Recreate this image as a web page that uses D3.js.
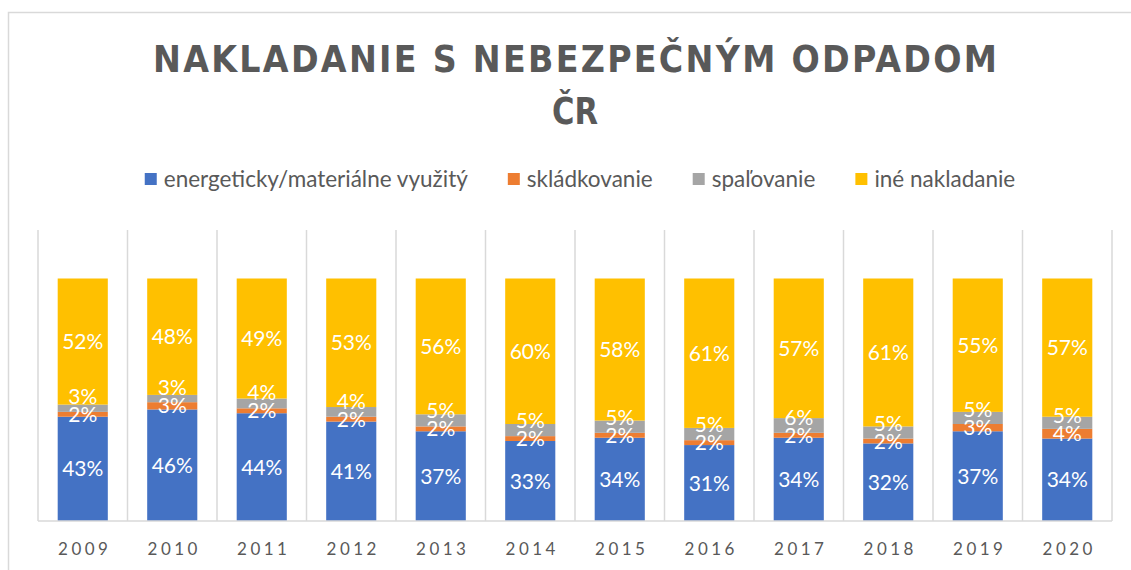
<!DOCTYPE html>
<html>
<head>
<meta charset="utf-8">
<script src="https://cdn.jsdelivr.net/npm/d3@7"></script>
<style>
  body { margin: 0; background: #fff; }
  svg { display: block; }
</style>
</head>
<body>
<svg id="chart"></svg>
<script>
// nakladanie s nebezpecnym odpadom - 100% stacked columns

var years = ["2009", "2010", "2011", "2012", "2013", "2014", "2015", "2016", "2017", "2018", "2019", "2020"];
var seriesNames = ["energeticky/materiálne využitý", "skládkovanie", "spaľovanie", "iné nakladanie"];
var energeticky = [43, 46, 44, 41, 37, 33, 34, 31, 34, 32, 37, 34];
var skladkovanie = [2, 3, 2, 2, 2, 2, 2, 2, 2, 2, 3, 4];
var spalovanie = [3, 3, 4, 4, 5, 5, 5, 5, 6, 5, 5, 5];
var ine = [52, 48, 49, 53, 56, 60, 58, 61, 57, 61, 55, 57];
var colors = ["#4472C4", "#ED7D31", "#A5A5A5", "#FFC000"];
var titleLines = ["NAKLADANIE S NEBEZPEČNÝM ODPADOM", "ČR"];

var width = 1131,
    height = 570,
    margin = {left: 38, right: 19, top: 230, bottom: 49},
    font = "Lato, 'Open Sans', sans-serif",
    titleFont = "'Liberation Sans Narrow', 'Arial Narrow', 'DejaVu Sans Condensed', Lato, sans-serif";

var keys = ["e", "s", "p", "i"];
var rows = years.map(function(y, i) {
  return {year: y, e: energeticky[i], s: skladkovanie[i], p: spalovanie[i], i: ine[i]};
});

var stack = d3.stack().keys(keys).offset(d3.stackOffsetExpand);
var layers = stack(rows);

var svg = d3.select("#chart").attr("width", width).attr("height", height);

// outer chart border
svg.append("rect")
  .attr("x", 8.5).attr("y", 12.5)
  .attr("width", width + 20).attr("height", height + 20)
  .attr("fill", "#fff")
  .attr("stroke", "#d9d9d9")
  .attr("stroke-width", 1.5);

var x = d3.scaleBand()
  .domain(years)
  .range([margin.left, width - margin.right])
  .paddingInner(0.44)
  .paddingOuter(0.22);

var y = d3.scaleLinear()
  .domain([0, 1.2])
  .range([height - margin.bottom, margin.top]);

// vertical gridlines between categories
var bounds = d3.range(years.length + 1).map(function(i) { return margin.left + i * (width - margin.left - margin.right) / years.length; });
svg.append("g").selectAll("line")
  .data(bounds)
  .join("line")
  .attr("x1", function(d) { return d; })
  .attr("x2", function(d) { return d; })
  .attr("y1", y(1.2))
  .attr("y2", y(0))
  .attr("stroke", "#d9d9d9")
  .attr("stroke-width", 1.5);

// bars
svg.append("g").selectAll("g.layer")
  .data(layers)
  .join("g")
  .attr("class", "layer")
  .attr("fill", function(d, i) { return colors[i]; })
  .selectAll("rect")
  .data(function(d) { return d; })
  .join("rect")
  .attr("x", function(d) { return x(d.data.year); })
  .attr("width", x.bandwidth())
  .attr("y", function(d) { return y(d[1]); })
  .attr("height", function(d) { return y(d[0]) - y(d[1]); });

// data labels, centred in segment; the spalovanie label is lifted off the skladkovanie one
function mid(d) { return (y(d[0]) + y(d[1])) / 2; }
layers.forEach(function(layer, li) {
  svg.append("g").selectAll("text")
    .data(layer)
    .join("text")
    .attr("x", function(d) { return x(d.data.year) + x.bandwidth() / 2; })
    .attr("y", function(d, i) {
      if (li === 2) return Math.min(mid(d), mid(layers[1][i]) - 18);
      return mid(d);
    })
    .attr("dy", "0.36em")
    .attr("text-anchor", "middle")
    .attr("fill", "#fff")
    .style("font-family", font)
    .style("font-size", "21px")
    .text(function(d) { return d.data[layer.key] + "%"; });
});

// x axis
var xAxis = svg.append("g")
  .attr("transform", "translate(0," + y(0) + ")")
  .call(d3.axisBottom(x).tickSize(0).tickPadding(22));
xAxis.select(".domain")
  .attr("d", "M" + margin.left + ",0H" + (width - margin.right))
  .attr("stroke", "#d9d9d9")
  .attr("stroke-width", 1.5);
xAxis.selectAll("text")
  .attr("fill", "#595959")
  .attr("dx", "2px")
  .style("font-family", font)
  .style("font-size", "17px")
  .style("letter-spacing", "3.5px");

// title
svg.append("text")
  .attr("x", 575).attr("y", 72)
  .attr("text-anchor", "middle")
  .attr("textLength", 844)
  .attr("lengthAdjust", "spacing")
  .attr("fill", "#595959")
  .style("font-family", titleFont)
  .style("font-weight", "bold")
  .style("font-size", "37px")
  .text(titleLines[0]);
svg.append("text")
  .attr("x", 575).attr("y", 124)
  .attr("text-anchor", "middle")
  .attr("textLength", 46)
  .attr("lengthAdjust", "spacingAndGlyphs")
  .attr("fill", "#595959")
  .style("font-family", titleFont)
  .style("font-weight", "bold")
  .style("font-size", "37px")
  .text(titleLines[1]);

// legend
var legend = svg.append("g");
var items = legend.selectAll("g")
  .data(seriesNames)
  .join("g");
items.append("rect")
  .attr("width", 12).attr("height", 12)
  .attr("y", -6)
  .attr("fill", function(d, i) { return colors[i]; });
items.append("text")
  .attr("x", 19)
  .attr("dy", "0.35em")
  .attr("fill", "#595959")
  .style("font-family", font)
  .style("font-size", "22.5px")
  .text(function(d) { return d; });

var pos = 0, gap = 40;
items.each(function() {
  var w = 19 + this.querySelector("text").getComputedTextLength();
  d3.select(this).attr("transform", "translate(" + pos + ",0)");
  pos += w + gap;
});
pos -= gap;
legend.attr("transform", "translate(" + (580 - pos / 2) + ",179)");
</script>
</body>
</html>
